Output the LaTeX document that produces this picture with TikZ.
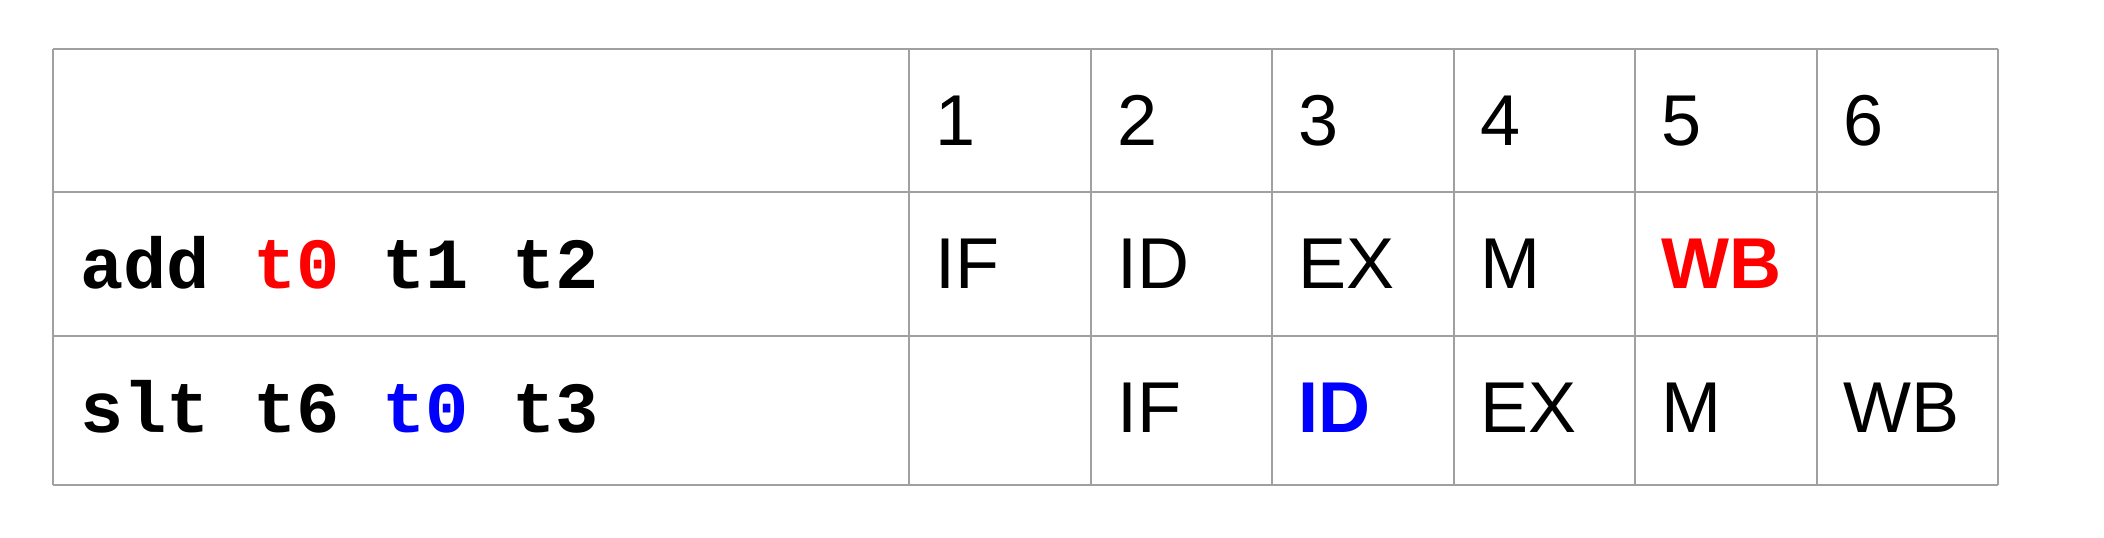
\documentclass[tikz,border=0pt]{standalone}
\usepackage{fontspec}
\setmainfont{Liberation Sans}
\newfontfamily\codefont{Liberation Mono}
\definecolor{gridgray}{HTML}{A0A0A0}
\definecolor{hired}{HTML}{FF0000}
\definecolor{hiblue}{HTML}{0000FF}
\tikzset{
  gridline/.style={draw=gridgray, line width=2.3pt},
  cell/.style={anchor=base west, inner sep=0pt, font=\fontsize{72}{80}\selectfont},
  codecell/.style={anchor=base west, inner sep=0pt, font=\codefont\bfseries\fontsize{72}{80}\selectfont},
}
\begin{document}
\begin{tikzpicture}[x=1pt,y=-1pt]
\useasboundingbox (0,0) rectangle (2104,538);
% grid
\foreach \yy in {48.7,192.3,335.7,484.7} \draw[gridline] (53,\yy) -- (1998,\yy);
\foreach \xx in {53,909,1091,1272,1454,1635,1817,1998} \draw[gridline] (\xx,48.7) -- (\xx,484.7);
% header
\node[cell] (h1) at (935,145) {1};
\node[cell] (h2) at (1117,145) {2};
\node[cell] (h3) at (1298,145) {3};
\node[cell] (h4) at (1480,145) {4};
\node[cell] (h5) at (1661,145) {5};
\node[cell] (h6) at (1843,145) {6};
% row 1
\node[codecell] (c1) at (80,288) {add \textcolor{hired}{t0} t1 t2};
\node[cell] (r1a) at (935,288) {IF};
\node[cell] (r1b) at (1117,288) {ID};
\node[cell] (r1c) at (1298,288) {EX};
\node[cell] (r1d) at (1480,288) {M};
\node[cell, text=hired] (r1e) at (1661,288) {\bfseries WB};
% row 2
\node[codecell] (c2) at (80,432) {slt t6 \textcolor{hiblue}{t0} t3};
\node[cell] (r2b) at (1117,432) {IF};
\node[cell, text=hiblue] (r2c) at (1298,432) {\bfseries ID};
\node[cell] (r2d) at (1480,432) {EX};
\node[cell] (r2e) at (1661,432) {M};
\node[cell] (r2f) at (1843,432) {WB};
\end{tikzpicture}
\end{document}
